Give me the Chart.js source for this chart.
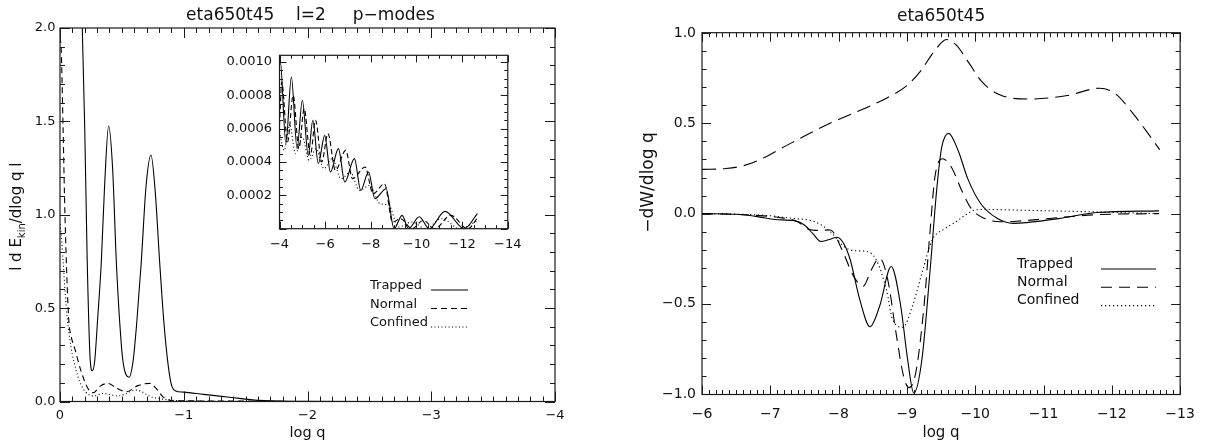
<!DOCTYPE html>
<html>
<head>
<meta charset="utf-8">
<title>eta650t45</title>
<script src="https://cdn.jsdelivr.net/npm/chart.js@4.4.1/dist/chart.umd.min.js"></script>
<style>
  html, body { margin: 0; padding: 0; background: #fff; }
  #stage { position: relative; width: 1206px; height: 445px; overflow: hidden; }
  #stage canvas { position: absolute; }
</style>
</head>
<body>
<div id="stage">
  <canvas id="kinChart" width="600" height="445" style="left:0;top:0"></canvas>
  <canvas id="insetChart" width="310" height="220" style="left:220px;top:40px"></canvas>
  <canvas id="workChart" width="606" height="445" style="left:600px;top:0"></canvas>
</div>
<script>
// ─── DATA: left panel, |dE_kin/dlog q| vs log q ───
const kinTrapQ = [0, -0.1, -0.15, -0.18, -0.2, -0.22, -0.245, -0.262, -0.28, -0.305, -0.334, -0.36, -0.393, -0.425, -0.455, -0.485, -0.509, -0.558, -0.59, -0.62, -0.657, -0.695, -0.735, -0.77, -0.805, -0.84, -0.873, -0.9, -0.93, -1.0, -1.16, -1.37, -1.6, -1.9, -2.5, -4];
const kinTrapE = [4.5, 3.4, 2.5, 2.0, 1.46, 0.75, 0.214, 0.165, 0.214, 0.45, 0.75, 1.15, 1.475, 1.25, 0.75, 0.4, 0.214, 0.13, 0.214, 0.42, 0.75, 1.15, 1.32, 1.12, 0.75, 0.42, 0.2, 0.09, 0.058, 0.05, 0.038, 0.023, 0.006, 0.001, 0, 0];
const kinNormQ = [0, -0.01, -0.025, -0.04, -0.07, -0.09, -0.119, -0.172, -0.226, -0.267, -0.33, -0.388, -0.46, -0.536, -0.63, -0.725, -0.79, -0.832, -0.913, -1.2, -2, -4];
const kinNormE = [1.95, 1.88, 1.46, 1.0, 0.445, 0.35, 0.284, 0.159, 0.07, 0.047, 0.085, 0.097, 0.07, 0.052, 0.085, 0.097, 0.06, 0.025, 0.004, 0.003, 0, 0];
const kinConfQ = [0, -0.01, -0.025, -0.051, -0.078, -0.119, -0.172, -0.24, -0.27, -0.348, -0.469, -0.617, -0.738, -0.873, -1.1, -2, -4];
const kinConfE = [0.95, 0.89, 0.75, 0.5, 0.338, 0.195, 0.087, 0.034, 0.03, 0.043, 0.03, 0.061, 0.025, 0.009, 0.002, 0, 0];

// inset, same quantity from log q = -4 outwards
const insTrapQ = [-4.0, -4.03, -4.28, -4.52, -4.77, -5.0, -5.26, -5.46, -5.70, -5.98, -6.23, -6.58, -6.86, -7.28, -7.56, -7.90, -8.18, -8.67, -9.02, -9.37, -9.65, -10.12, -10.56, -11.25, -12.09, -12.67];
const insTrapE = [0.00098, 0.00101, 0.00051, 0.00091, 0.00048, 0.00077, 0.00044, 0.00065, 0.00039, 0.00056, 0.00034, 0.00048, 0.00028, 0.00042, 0.00023, 0.00034, 0.00018, 0.00024, 0.0, 0.00008, 0.0, 0.000072, 0.0, 0.000104, 0.0, 0.00009];
const insNormQ = [-4.0, -4.1, -4.35, -4.6, -4.85, -5.08, -5.35, -5.58, -5.85, -6.12, -6.45, -6.9, -7.2, -7.75, -8.1, -8.6, -8.95, -9.3, -9.8, -10.3, -10.8, -11.5, -12.25, -12.7];
const insNormE = [0.00062, 0.00088, 0.00052, 0.0008, 0.00048, 0.00072, 0.00044, 0.00065, 0.0004, 0.00057, 0.00035, 0.00047, 0.0003, 0.00037, 0.00021, 0.00027, 0.00004, 0.00006, 0.0, 0.00005, 0.0, 0.00008, 0.0, 0.00007];
const insConfQ = [-4.0, -4.2, -4.45, -4.7, -5.0, -5.3, -5.6, -5.95, -6.3, -6.7, -7.1, -7.5, -7.95, -8.4, -8.8, -9.2, -9.8, -10.4, -11.1, -11.9, -12.7];
const insConfE = [0.00058, 0.00047, 0.00062, 0.00045, 0.00055, 0.00041, 0.00048, 0.00036, 0.00042, 0.0003, 0.00034, 0.00023, 0.00026, 0.00015, 0.00014, 0.00001, 0.00004, 0.0, 0.00006, 0.0, 0.00005];

// ─── DATA: right panel, -dW/dlog q vs log q ───
const totQ = [-6.0, -6.35, -6.6, -6.85, -7.2, -7.55, -7.9, -8.3, -8.7, -9.0, -9.2, -9.4, -9.58, -9.72, -9.9, -10.1, -10.35, -10.8, -11.35, -11.82, -12.05, -12.3, -12.5, -12.7];
const totW = [0.245, 0.25, 0.265, 0.3, 0.37, 0.44, 0.505, 0.57, 0.64, 0.71, 0.79, 0.9, 0.965, 0.935, 0.84, 0.73, 0.66, 0.635, 0.655, 0.695, 0.665, 0.56, 0.46, 0.355];
const wTrapQ = [-6, -6.5, -6.83, -7.07, -7.36, -7.5, -7.62, -7.74, -7.85, -7.98, -8.08, -8.17, -8.31, -8.46, -8.6, -8.77, -8.91, -9.01, -9.1, -9.22, -9.34, -9.44, -9.51, -9.61, -9.75, -9.89, -10.08, -10.32, -10.56, -10.75, -11.22, -11.78, -12.69];
const wTrapW = [0, -0.004, -0.018, -0.033, -0.04, -0.063, -0.11, -0.155, -0.145, -0.131, -0.17, -0.256, -0.477, -0.627, -0.514, -0.293, -0.514, -0.808, -0.995, -0.808, -0.311, 0.148, 0.368, 0.445, 0.35, 0.194, 0.056, -0.026, -0.054, -0.05, -0.028, 0.006, 0.015];
const wNormQ = [-6, -6.8, -7.2, -7.4, -7.55, -7.7, -7.88, -8.05, -8.22, -8.36, -8.48, -8.6, -8.72, -8.84, -8.95, -9.03, -9.13, -9.25, -9.34, -9.41, -9.52, -9.65, -9.8, -9.94, -10.13, -10.37, -10.61, -11.22, -11.78, -12.69];
const wNormW = [0, -0.01, -0.025, -0.045, -0.085, -0.093, -0.091, -0.201, -0.348, -0.403, -0.311, -0.247, -0.367, -0.66, -0.9, -0.965, -0.881, -0.514, -0.091, 0.203, 0.304, 0.258, 0.13, 0.029, -0.026, -0.045, -0.042, -0.022, -0.006, 0];
const wConfQ = [-6, -6.5, -7.0, -7.31, -7.65, -7.88, -8.08, -8.22, -8.41, -8.55, -8.7, -8.79, -8.94, -9.08, -9.22, -9.37, -9.55, -9.7, -9.85, -10.0, -10.18, -10.56, -11.78, -12.69];
const wConfW = [0, -0.003, -0.012, -0.026, -0.045, -0.1, -0.183, -0.205, -0.21, -0.256, -0.422, -0.587, -0.63, -0.514, -0.33, -0.146, -0.085, -0.05, -0.01, 0.02, 0.023, 0.02, 0.009, 0];

// tick labels
const kinXTicks = [0, -1, -2, -3, -4];
const kinYTicks = [0, 0.5, 1.0, 1.5, 2.0];
const insXTicks = [-4, -6, -8, -10, -12, -14];
const insYTicks = [0.0002, 0.0004, 0.0006, 0.0008, 0.0010];
const workXTicks = [-6, -7, -8, -9, -10, -11, -12, -13];
const workYTicks = [-1.0, -0.5, 0, 0.5, 1.0];

const FONT = '"DejaVu Sans", "Liberation Sans", sans-serif';
const INK = '#111';

const pts = (xs, ys) => xs.map((x, i) => ({ x, y: ys[i] }));
const fmt = d => v => (v < 0 ? '\u2212' : '') + Math.abs(v).toFixed(d);

function line(label, xs, ys, dash, inLegend = true) {
  return {
    label, inLegend, data: pts(xs, ys),
    borderColor: '#000', borderWidth: 1.1, borderDash: dash,
    pointRadius: 0, fill: false, cubicInterpolationMode: 'monotone'
  };
}

function axis(o) {
  return {
    type: 'linear', min: o.min, max: o.max, reverse: !!o.reverse,
    grid: { display: false, drawTicks: false }, border: { display: false },
    afterBuildTicks: s => { s.ticks = o.ticks.map(v => ({ value: v })); },
    afterFit: s => { if (o.width != null) s.width = o.width; if (o.height != null) s.height = o.height; },
    ticks: { padding: o.pad, color: INK, autoSkip: false, maxRotation: 0,
             font: { family: FONT, size: o.size }, callback: fmt(o.dec) },
    title: o.title
      ? { display: true, text: o.title, color: INK, font: { family: FONT, size: o.titleSize }, padding: { top: 0, bottom: o.titlePad } }
      : { display: false }
  };
}

// IDL style box: frame plus inward major/minor ticks on all four sides
function tickVals(min, max, step) {
  const out = [];
  const lo = Math.ceil(Math.min(min, max) / step - 1e-6), hi = Math.floor(Math.max(min, max) / step + 1e-6);
  for (let k = lo; k <= hi; k++) out.push(k * step);
  return out;
}
const isMajor = (v, m) => Math.abs(v / m - Math.round(v / m)) < 1e-6;

const idlFrame = {
  id: 'idlFrame',
  afterDatasetsDraw(chart, args, o) {
    const { ctx, chartArea: a, scales: { x, y } } = chart;
    ctx.save();
    ctx.strokeStyle = '#1a1a1a';
    ctx.lineWidth = 1.2;
    ctx.setLineDash([]);
    ctx.strokeRect(a.left, a.top, a.right - a.left, a.bottom - a.top);
    ctx.lineWidth = 1;
    ctx.beginPath();
    tickVals(x.min, x.max, o.xMinor).forEach(v => {
      const px = Math.round(x.getPixelForValue(v)) + 0.5;
      const len = isMajor(v, o.xMajor) ? o.majorLen : o.minorLen;
      ctx.moveTo(px, a.bottom); ctx.lineTo(px, a.bottom - len);
      ctx.moveTo(px, a.top); ctx.lineTo(px, a.top + len);
    });
    tickVals(y.min, y.max, o.yMinor).forEach(v => {
      const py = Math.round(y.getPixelForValue(v)) + 0.5;
      const len = isMajor(v, o.yMajor) ? o.majorLen : o.minorLen;
      ctx.moveTo(a.left, py); ctx.lineTo(a.left + len, py);
      ctx.moveTo(a.right, py); ctx.lineTo(a.right - len, py);
    });
    ctx.stroke();
    ctx.restore();
  }
};

const idlLegend = {
  id: 'idlLegend',
  afterDatasetsDraw(chart, args, o) {
    if (o.textX == null) return;
    const ctx = chart.ctx;
    ctx.save();
    ctx.font = `${o.size}px ${FONT}`;
    ctx.textBaseline = 'middle';
    ctx.fillStyle = INK;
    let row = 0;
    chart.data.datasets.forEach(ds => {
      if (!ds.inLegend) return;
      const yy = o.y0 + row * o.dy;
      ctx.fillText(ds.label, o.textX, yy);
      ctx.beginPath();
      ctx.setLineDash(ds.borderDash || []);
      ctx.strokeStyle = ds.borderColor;
      ctx.lineWidth = ds.borderWidth;
      ctx.moveTo(o.lineX0, yy + o.lineDy);
      ctx.lineTo(o.lineX1, yy + o.lineDy);
      ctx.stroke();
      row++;
    });
    ctx.restore();
  }
};

// rotated y-axis label, allows a subscript part
const sideLabel = {
  id: 'sideLabel',
  afterDraw(chart, args, o) {
    if (!o.parts) return;
    const ctx = chart.ctx;
    const fontOf = p => `${p.sub ? Math.round(o.size * 0.68) : o.size}px ${FONT}`;
    ctx.save();
    ctx.translate(o.x, o.y);
    ctx.rotate(-Math.PI / 2);
    ctx.fillStyle = INK;
    ctx.textBaseline = 'middle';
    let total = 0;
    o.parts.forEach(p => { ctx.font = fontOf(p); total += ctx.measureText(p.text).width; });
    let cx = -total / 2;
    o.parts.forEach(p => {
      ctx.font = fontOf(p);
      ctx.fillText(p.text, cx, p.sub ? o.size * 0.32 : 0);
      cx += ctx.measureText(p.text).width;
    });
    ctx.restore();
  }
};

// plot heading, centred over the plot box rather than the whole canvas
const heading = {
  id: 'heading',
  afterDraw(chart, args, o) {
    if (!o.text) return;
    const ctx = chart.ctx;
    const a = chart.chartArea;
    ctx.save();
    ctx.font = `${o.size}px ${FONT}`;
    ctx.fillStyle = INK;
    ctx.textAlign = 'center';
    ctx.textBaseline = 'middle';
    ctx.fillText(o.text, (a.left + a.right) / 2 + (o.dx || 0), o.y);
    ctx.restore();
  }
};

const base = { responsive: false, animation: false, events: [] };

// ─── LEFT PANEL ───
new Chart(document.getElementById('kinChart'), {
  type: 'line',
  data: { datasets: [
    line('Trapped', kinTrapQ, kinTrapE, []),
    line('Normal', kinNormQ, kinNormE, [6, 4]),
    line('Confined', kinConfQ, kinConfE, [1, 2.5])
  ] },
  options: {
    ...base,
    layout: { padding: { left: 0, right: 45, top: 28, bottom: 0 } },
    scales: {
      x: axis({ min: -4, max: 0, reverse: true, ticks: kinXTicks, dec: 0, size: 13, pad: 6.7, height: 43.5,
                title: 'log q', titleSize: 14.5, titlePad: 3.3 }),
      y: axis({ min: 0, max: 2.0, ticks: kinYTicks, dec: 1, size: 13, pad: 4.5, width: 60 })
    },
    plugins: {
      legend: { display: false }, tooltip: { enabled: false }, title: { display: false },
      heading: { text: 'eta650t45    l=2     p\u2212modes', y: 15.3, size: 17, dx: 3 },
      idlFrame: { xMinor: 0.1, xMajor: 1, yMinor: 0.1, yMajor: 0.5, majorLen: 10, minorLen: 5 },
      idlLegend: { textX: 370, y0: 286, dy: 18.5, lineX0: 431, lineX1: 468, lineDy: 4, size: 13 },
      sideLabel: { x: 17.4, y: 216.7, size: 15,
                   parts: [{ text: 'l d E' }, { text: 'kin', sub: true }, { text: '/dlog q l' }] }
    }
  },
  plugins: [idlFrame, idlLegend, sideLabel, heading]
});

// ─── INSET ───
new Chart(document.getElementById('insetChart'), {
  type: 'line',
  data: { datasets: [
    line('Trapped', insTrapQ, insTrapE, []),
    line('Normal', insNormQ, insNormE, [5, 3]),
    line('Confined', insConfQ, insConfE, [1, 2.5])
  ] },
  options: {
    ...base,
    layout: { padding: { left: 0, right: 11, top: 7.5, bottom: 0 } },
    scales: {
      x: axis({ min: -14, max: -4, reverse: true, ticks: insXTicks, dec: 0, size: 13, pad: 8.5, height: 31.3 }),
      y: axis({ min: 0, max: 0.00104, ticks: insYTicks, dec: 4, size: 13, pad: 7.5, width: 59.5 })
    },
    plugins: {
      legend: { display: false }, tooltip: { enabled: false }, title: { display: false },
      idlFrame: { xMinor: 0.5, xMajor: 2, yMinor: 0.00005, yMajor: 0.0002, majorLen: 7, minorLen: 3.5 }
    }
  },
  plugins: [idlFrame]
});

// ─── RIGHT PANEL ───
new Chart(document.getElementById('workChart'), {
  type: 'line',
  data: { datasets: [
    line('Trapped', wTrapQ, wTrapW, []),
    line('Normal', wNormQ, wNormW, [11, 7]),
    line('Confined', wConfQ, wConfW, [1.2, 2.8]),
    line('', totQ, totW, [14, 7], false)
  ] },
  options: {
    ...base,
    layout: { padding: { left: 0, right: 16, top: 32.7, bottom: 0 } },
    scales: {
      x: axis({ min: -13, max: -6, reverse: true, ticks: workXTicks, dec: 0, size: 14, pad: 11.1, height: 50.5,
                title: 'log q', titleSize: 15, titlePad: 3 }),
      y: axis({ min: -1.003, max: 1.003, ticks: workYTicks, dec: 1, size: 14, pad: 6, width: 102 })
    },
    plugins: {
      legend: { display: false }, tooltip: { enabled: false }, title: { display: false },
      heading: { text: 'eta650t45', y: 17, size: 17 },
      idlFrame: { xMinor: 0.1, xMajor: 1, yMinor: 0.1, yMajor: 0.5, majorLen: 9, minorLen: 4.5 },
      idlLegend: { textX: 417, y0: 264, dy: 18.3, lineX0: 501, lineX1: 556, lineDy: 5, size: 14 },
      sideLabel: { x: 48.6, y: 182.5, size: 17, parts: [{ text: '\u2212dW/dlog q' }] }
    }
  },
  plugins: [idlFrame, idlLegend, sideLabel, heading]
});
</script>
</body>
</html>
